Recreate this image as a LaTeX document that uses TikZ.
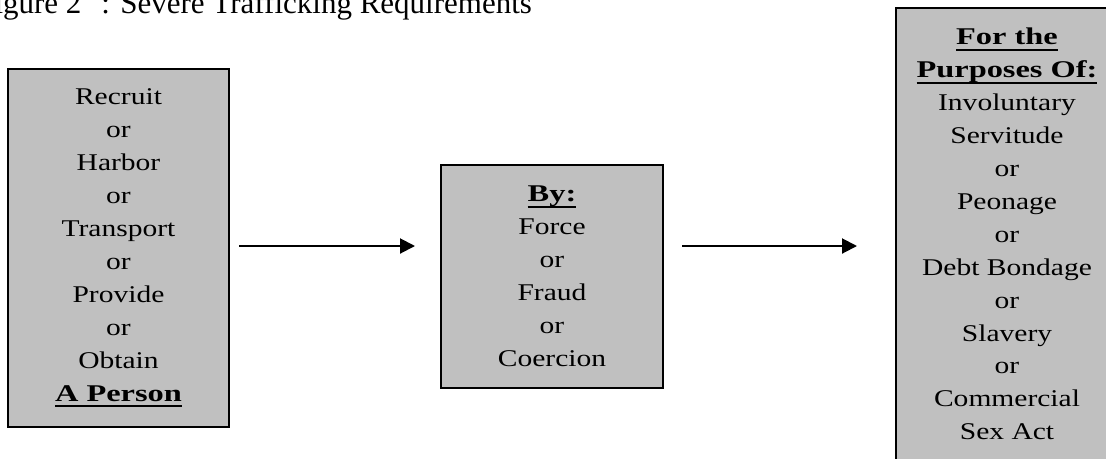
\documentclass[tikz,border=0pt]{standalone}
\usepackage{fontspec}
\setmainfont{Liberation Serif}
\newfontfamily\boxfont{Liberation Serif}[FakeStretch=1.23]
\newfontfamily\boxbold{Liberation Serif}[FakeStretch=1.35]
\usetikzlibrary{arrows.meta}
\definecolor{boxgrey}{HTML}{C0C0C0}
\newcommand\hd[1]{{\boxbold\bfseries\setbox0=\hbox{#1}\rlap{\rule[-4.5pt]{\wd0}{1.5pt}}\box0}}
\begin{document}
\begin{tikzpicture}[x=0.75pt,y=-0.75pt,
  box/.style={draw=black,line width=1.5pt,fill=boxgrey,align=center,
    inner sep=0pt,outer sep=0pt,font={\boxfont\fontsize{18}{24.7}\selectfont}},
  arr/.style={line width=1.5pt,-{Triangle[length=11.25pt,width=11.25pt]}}]
\useasboundingbox (0,0) rectangle (1106,458);
\node[anchor=base west,inner sep=0pt,font={\fontsize{23.25}{28}\selectfont}] (title) at (-23,13)
  {Figure 2\hspace{15pt}: Severe Trafficking Requirements};
\node[box,minimum width=165.75pt,minimum height=268.5pt] (b1) at (118.5,248)
  {Recruit\\or\\Harbor\\or\\Transport\\or\\Provide\\or\\Obtain\\\hd{A Person}};
\node[box,minimum width=166.5pt,minimum height=167.25pt] (b2) at (552,276.5)
  {\hd{By:}\\Force\\or\\Fraud\\or\\Coercion};
\node[box,minimum width=166.5pt,minimum height=339.75pt] (b3) at (1007,234)
  {\hd{For the}\\\hd{Purposes Of:}\\Involuntary\\Servitude\\or\\Peonage\\or\\Debt Bondage\\or\\Slavery\\or\\Commercial\\Sex Act};
\coordinate (ay) at ([yshift=1.5pt]b1.east);
\draw[arr] ([xshift=7.5pt]ay) -- ([xshift=-19.5pt]b2.west |- ay);
\draw[arr] ([xshift=14.25pt]b2.east |- ay) -- ([xshift=-29.25pt]b3.west |- ay);
\end{tikzpicture}
\end{document}
